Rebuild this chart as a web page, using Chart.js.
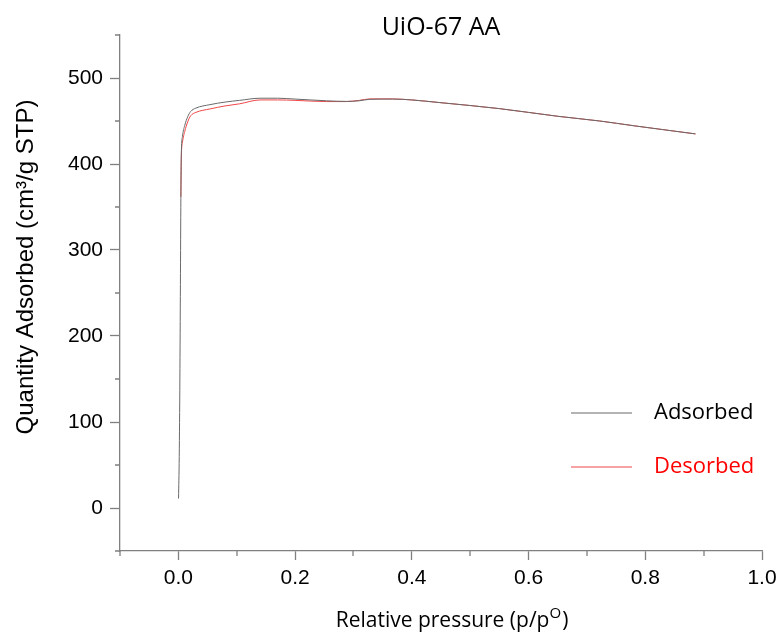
<!DOCTYPE html>
<html>
<head>
<meta charset="utf-8">
<script src="https://cdn.jsdelivr.net/npm/chart.js@4"></script>
<style>
  html, body { margin: 0; padding: 0; background: #fff; }
  canvas { display: block; }
</style>
</head>
<body>
<canvas id="c" width="778" height="635"></canvas>
<script>
// Nitrogen isotherm, UiO-67 AA
const adsorbedP = [0.0003, 0.0015, 0.0026, 0.0035, 0.0043, 0.005, 0.007, 0.011, 0.016, 0.021, 0.03, 0.054, 0.08, 0.105, 0.14, 0.17, 0.2, 0.254, 0.288, 0.31, 0.328, 0.367, 0.40, 0.448, 0.5, 0.55, 0.6, 0.65, 0.722, 0.78, 0.83, 0.886];
const adsorbedQ = [11, 60, 150, 260, 360, 410, 432, 445, 455, 461, 465, 469, 472, 474, 476.5, 476.5, 475.5, 473.5, 472.8, 473.5, 475.2, 475.5, 474.5, 471.4, 468, 464.4, 460, 455.5, 450, 444.5, 440, 435];

const desorbedP = [0.0043, 0.005, 0.007, 0.011, 0.016, 0.021, 0.03, 0.054, 0.08, 0.105, 0.14, 0.17, 0.2, 0.254, 0.288, 0.31, 0.328, 0.367, 0.40, 0.448, 0.5, 0.55, 0.6, 0.65, 0.722, 0.78, 0.83, 0.886];
const desorbedQ = [362, 405, 425, 438, 449, 456, 460, 464, 467.5, 470, 474.5, 474.5, 474, 472.6, 472.6, 474, 475.7, 475.7, 474.5, 471.4, 468, 464.4, 460, 455.5, 450, 444.5, 440, 435];

const xMajorTicks = [0, 0.2, 0.4, 0.6, 0.8, 1.0];
const xMinorTicks = [-0.1, 0.1, 0.3, 0.5, 0.7, 0.9];
const yMajorTicks = [0, 100, 200, 300, 400, 500];
const yMinorTicks = [-50, 50, 150, 250, 350, 450, 550];

const seriesNames = ['Adsorbed', 'Desorbed'];
const chartTitle = 'UiO-67 AA';
const yTitle = 'Quantity Adsorbed (cm\u00B3/g STP)';
const xTitleMain = 'Relative pressure (p/p';
const xTitleSup = 'O';
const xTitleEnd = ')';

const AXIS_GREY = '#808080';
const SANS = '"Liberation Sans", Arial, sans-serif';
const HUMANIST = '"Open Sans", sans-serif';

const toPoints = (xs, ys) => xs.map((x, i) => ({ x: x, y: ys[i] }));

// minor ticks, axis titles and the inline legend
const decorations = {
  id: 'decorations',
  afterDraw(chart) {
    const { ctx, chartArea: a, scales: { x, y } } = chart;
    ctx.save();
    ctx.strokeStyle = AXIS_GREY;
    ctx.lineWidth = 1.3;
    ctx.beginPath();
    xMinorTicks.forEach(v => {
      const px = Math.round(x.getPixelForValue(v));
      ctx.moveTo(px, a.bottom);
      ctx.lineTo(px, a.bottom + 5);
    });
    yMinorTicks.forEach(v => {
      const py = Math.round(y.getPixelForValue(v));
      ctx.moveTo(a.left - 5, py);
      ctx.lineTo(a.left, py);
    });
    ctx.stroke();

    // y axis title
    ctx.fillStyle = '#000';
    ctx.font = '24px ' + SANS;
    ctx.textAlign = 'center';
    ctx.textBaseline = 'middle';
    ctx.save();
    ctx.translate(26, 267);
    ctx.rotate(-Math.PI / 2);
    ctx.fillText(yTitle, 0, 0);
    ctx.restore();

    // x axis title with superscript
    const mainFont = '21px ' + HUMANIST;
    const supFont = '15px ' + HUMANIST;
    ctx.textBaseline = 'alphabetic';
    ctx.textAlign = 'left';
    ctx.font = mainFont;
    const w1 = ctx.measureText(xTitleMain).width;
    const w3 = ctx.measureText(xTitleEnd).width;
    ctx.font = supFont;
    const w2 = ctx.measureText(xTitleSup).width;
    const total = w1 + w2 + w3 + 1;
    let tx = 452 - total / 2;
    const base = 627;
    ctx.font = mainFont;
    ctx.fillText(xTitleMain, tx, base);
    tx += w1;
    ctx.font = supFont;
    ctx.fillText(xTitleSup, tx, base - 9);
    tx += w2 + 1;
    ctx.font = mainFont;
    ctx.fillText(xTitleEnd, tx, base);

    // legend
    const rows = [413, 467];
    const textColors = ['#000000', '#ff0000'];
    ctx.font = '22px ' + HUMANIST;
    ctx.textBaseline = 'middle';
    chart.data.datasets.forEach((ds, i) => {
      const ry = rows[i];
      ctx.strokeStyle = ds.borderColor;
      ctx.lineWidth = 1;
      ctx.beginPath();
      ctx.moveTo(571, ry);
      ctx.lineTo(632, ry);
      ctx.stroke();
      ctx.fillStyle = textColors[i];
      ctx.fillText(ds.label, 654, ry);
    });
    ctx.restore();
  }
};

new Chart(document.getElementById('c'), {
  type: 'line',
  data: {
    datasets: [
      {
        label: seriesNames[0],
        data: toPoints(adsorbedP, adsorbedQ),
        borderColor: 'rgb(105,105,105)',
        borderWidth: 1,
        pointRadius: 0,
        cubicInterpolationMode: 'monotone',
        fill: false
      },
      {
        label: seriesNames[1],
        data: toPoints(desorbedP, desorbedQ),
        borderColor: 'rgb(240,70,70)',
        borderWidth: 1,
        pointRadius: 0,
        cubicInterpolationMode: 'monotone',
        fill: false
      }
    ]
  },
  options: {
    responsive: false,
    animation: false,
    devicePixelRatio: 1,
    layout: { padding: { top: 0, left: 0, right: 16, bottom: 0 } },
    plugins: {
      legend: { display: false },
      tooltip: { enabled: false },
      title: {
        display: true,
        fullSize: false,
        text: chartTitle,
        color: '#000',
        font: { family: HUMANIST, size: 25, weight: 'normal', lineHeight: 0.6 },
        padding: { top: 20, bottom: 0 }
      }
    },
    scales: {
      x: {
        type: 'linear',
        min: -0.1,
        max: 1.0,
        afterBuildTicks: s => { s.ticks = xMajorTicks.map(v => ({ value: v })); },
        afterFit: s => { s.height = 84; s.paddingRight = 0; },
        border: { display: true, color: AXIS_GREY, width: 1.3 },
        grid: { display: true, drawOnChartArea: false, drawTicks: true, tickLength: 9, tickColor: AXIS_GREY, tickWidth: 1.3 },
        ticks: {
          color: '#000',
          font: { family: SANS, size: 21 },
          padding: 6,
          maxRotation: 0,
          callback: v => Number(v).toFixed(1)
        }
      },
      y: {
        type: 'linear',
        min: -50,
        max: 550,
        afterBuildTicks: s => { s.ticks = yMajorTicks.map(v => ({ value: v })); },
        afterFit: s => { s.width = 120; },
        border: { display: true, color: AXIS_GREY, width: 1.3 },
        grid: { display: true, drawOnChartArea: false, drawTicks: true, tickLength: 10, tickColor: AXIS_GREY, tickWidth: 1.3 },
        ticks: {
          color: '#000',
          font: { family: SANS, size: 21 },
          padding: 7,
          callback: v => String(v)
        }
      }
    }
  },
  plugins: [decorations]
});
</script>
</body>
</html>
